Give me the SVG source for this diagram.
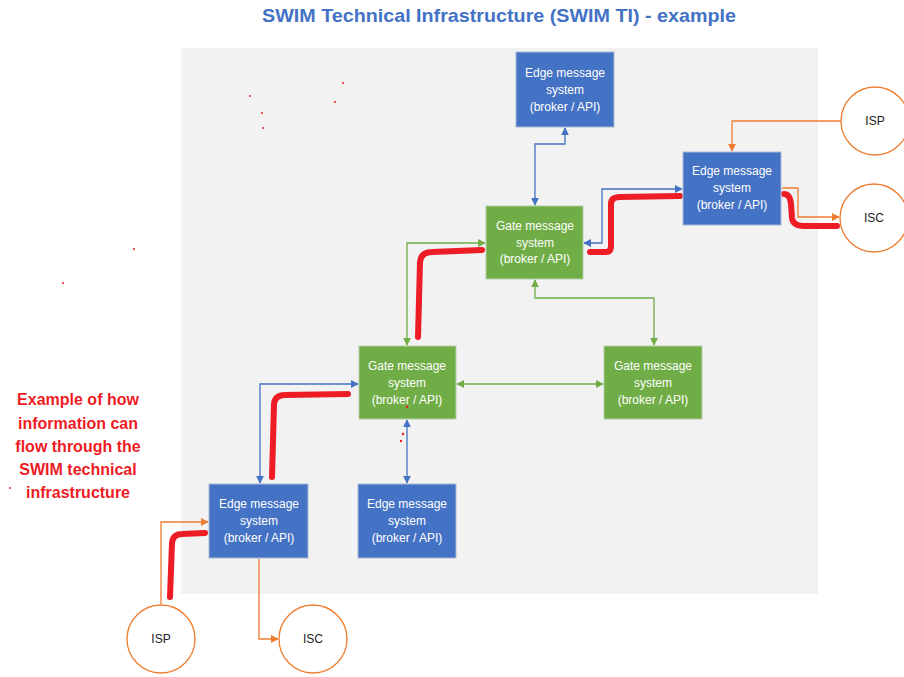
<svg xmlns="http://www.w3.org/2000/svg" width="904" height="677" viewBox="0 0 904 677">
<style>
.nb{fill:#4472C4;stroke:#A9B8D6;stroke-width:1}
.ng{fill:#70AD47;stroke:#B5CDA6;stroke-width:1}
.nt{font-family:"Liberation Sans",Arial,sans-serif;font-size:12px;fill:#fff;text-anchor:middle}
.ct{fill:#fff;stroke:#ED7D31;stroke-width:1.3}
.cl{font-family:"Liberation Sans",Arial,sans-serif;font-size:12px;fill:#222;text-anchor:middle}
.cb{fill:none;stroke:#4472C4;stroke-width:1.3;marker-start:url(#ab);marker-end:url(#ab)}
.cg{fill:none;stroke:#70AD47;stroke-width:1.3;marker-start:url(#ag);marker-end:url(#ag)}
.co{fill:none;stroke:#ED7D31;stroke-width:1.3;marker-end:url(#ao)}
.rd{fill:none;stroke:#EE1C25;stroke-width:6;stroke-linecap:round;stroke-linejoin:round}
.dot{fill:#EE1C25}
</style>
<defs>
<marker id="ab" viewBox="0 0 10 10" refX="9" refY="5" markerWidth="8" markerHeight="8" markerUnits="userSpaceOnUse" orient="auto-start-reverse"><path d="M0,0L10,5L0,10z" fill="#4472C4"/></marker>
<marker id="ag" viewBox="0 0 10 10" refX="9" refY="5" markerWidth="8" markerHeight="8" markerUnits="userSpaceOnUse" orient="auto-start-reverse"><path d="M0,0L10,5L0,10z" fill="#70AD47"/></marker>
<marker id="ao" viewBox="0 0 10 10" refX="9" refY="5" markerWidth="8" markerHeight="8" markerUnits="userSpaceOnUse" orient="auto-start-reverse"><path d="M0,0L10,5L0,10z" fill="#ED7D31"/></marker>
</defs>
<rect width="904" height="677" fill="#fff"/>
<rect x="181" y="48" width="637" height="546" fill="#F2F2F2"/>
<text x="499" y="22" font-family="Liberation Sans,Arial,sans-serif" font-size="19" font-weight="bold" fill="#4472C4" text-anchor="middle" textLength="474" lengthAdjust="spacingAndGlyphs">SWIM Technical Infrastructure (SWIM TI) - example</text>
<g font-family="Liberation Sans,Arial,sans-serif" font-size="16" font-weight="bold" fill="#EE1C25" text-anchor="middle">
<text x="78" y="405">Example of how</text>
<text x="78" y="429">information can</text>
<text x="78" y="452">flow through the</text>
<text x="78" y="475">SWIM technical</text>
<text x="78" y="498">infrastructure</text>
</g>
<g id="connectors">
<path class="cb" d="M565,128 V144 H535 V205"/>
<path class="cb" d="M584,243 H602 V189 H682"/>
<path class="cg" d="M407,345 V243 H485"/>
<path class="cg" d="M535,280 V298 H654 V345"/>
<path class="cg" d="M457,384 H603"/>
<path class="cb" d="M260,483 V384 H358"/>
<path class="cb" d="M407,420 V483"/>
<path class="co" d="M841,121 H732 V151"/>
<path class="co" d="M782,188 H798 V217 H839"/>
<path class="co" d="M161,604 V522 H208"/>
<path class="co" d="M259,559 V639 H278"/>
<path class="rd" d="M590,252 H606 Q611,252 611,246 V204 Q611,197 620,197 L680,196"/>
<path class="rd" d="M784,194 Q790,194 791,204 L792,218 Q793,226 804,226 H837"/>
<path class="rd" d="M418,337 L420,262 Q421,252 432,252 L482,250"/>
<path class="rd" d="M272,477 L274,404 Q275,395 285,395 L348,394"/>
<path class="rd" d="M170,597 L172,543 Q173,534 182,534 L205,533"/>
</g>
<g id="edge-top"><rect class="nb" x="516" y="52" width="98" height="75"/><text class="nt" x="565" y="77">Edge message</text><text class="nt" x="565" y="94">system</text><text class="nt" x="565" y="111">(broker / API)</text></g>
<g id="edge-right"><rect class="nb" x="683" y="152" width="98" height="73"/><text class="nt" x="732" y="175">Edge message</text><text class="nt" x="732" y="192">system</text><text class="nt" x="732" y="209">(broker / API)</text></g>
<g id="gate-top"><rect class="ng" x="486" y="206" width="97" height="73"/><text class="nt" x="535" y="230">Gate message</text><text class="nt" x="535" y="247">system</text><text class="nt" x="535" y="263">(broker / API)</text></g>
<g id="gate-left"><rect class="ng" x="359" y="346" width="97" height="73"/><text class="nt" x="407" y="370">Gate message</text><text class="nt" x="407" y="387">system</text><text class="nt" x="407" y="404">(broker / API)</text></g>
<g id="gate-right"><rect class="ng" x="604" y="346" width="98" height="73"/><text class="nt" x="653" y="370">Gate message</text><text class="nt" x="653" y="387">system</text><text class="nt" x="653" y="404">(broker / API)</text></g>
<g id="edge-bl"><rect class="nb" x="209" y="484" width="99" height="74"/><text class="nt" x="259" y="508">Edge message</text><text class="nt" x="259" y="525">system</text><text class="nt" x="259" y="542">(broker / API)</text></g>
<g id="edge-bm"><rect class="nb" x="358" y="484" width="98" height="74"/><text class="nt" x="407" y="508">Edge message</text><text class="nt" x="407" y="525">system</text><text class="nt" x="407" y="542">(broker / API)</text></g>
<g id="isp-top"><circle class="ct" cx="875" cy="121" r="34"/><text class="cl" x="875" y="125">ISP</text></g>
<g id="isc-right"><circle class="ct" cx="874" cy="218" r="34"/><text class="cl" x="874" y="222">ISC</text></g>
<g id="isp-bottom"><circle class="ct" cx="161" cy="639" r="34"/><text class="cl" x="161" y="643">ISP</text></g>
<g id="isc-bottom"><circle class="ct" cx="313" cy="639" r="34"/><text class="cl" x="313" y="643">ISC</text></g>
<g id="dots">
<circle class="dot" cx="250" cy="96" r="1"/><circle class="dot" cx="262" cy="113" r="1"/><circle class="dot" cx="263" cy="128" r="1"/>
<circle class="dot" cx="343" cy="83" r="1"/><circle class="dot" cx="335" cy="102" r="1"/><circle class="dot" cx="134" cy="249" r="1"/>
<circle class="dot" cx="63" cy="283" r="1"/><circle class="dot" cx="10" cy="488" r="1"/><circle class="dot" cx="403" cy="434" r="1.2"/>
<circle class="dot" cx="401" cy="441" r="1.2"/><circle class="dot" cx="407" cy="407" r="1.2"/>
</g>
</svg>
